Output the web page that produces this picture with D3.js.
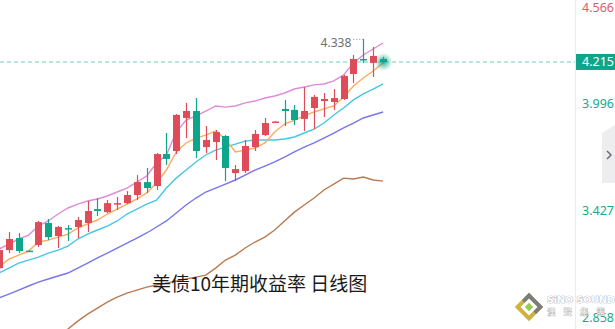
<!DOCTYPE html>
<html>
<head>
<meta charset="utf-8">
<script src="https://cdn.jsdelivr.net/npm/d3@7"></script>
<style>
  body { margin: 0; background: #fff; }
  svg { display: block; font-family: "Noto Sans", "Noto Sans CJK SC", sans-serif; }
</style>
</head>
<body>
<svg id="chart"></svg>
<script>
const w = 615, h = 329;

// daily candles: open / high / low / close
const opens  = [3.118,3.214,3.278,3.211,3.241,3.358,3.289,3.331,3.337,3.358,
                3.432,3.416,3.459,3.464,3.507,3.576,3.555,3.725,3.741,3.917,
                3.954,3.762,3.789,3.821,3.624,3.635,3.762,3.826,3.893,3.965,
                3.960,3.912,3.970,4.007,4.002,4.018,4.151,4.231,4.210,4.231];
const highs  = [3.230,3.310,3.305,3.213,3.369,3.379,3.342,3.347,3.390,3.475,
                3.491,3.480,3.496,3.528,3.613,3.651,3.730,3.837,3.938,3.997,
                4.023,3.874,3.853,3.826,3.667,3.800,3.853,3.917,3.900,4.013,
                3.986,4.082,4.039,4.050,4.071,4.146,4.252,4.338,4.295,4.242];
const lows   = [3.097,3.198,3.198,3.205,3.230,3.267,3.225,3.262,3.278,3.310,
                3.395,3.411,3.427,3.459,3.480,3.518,3.534,3.667,3.725,3.810,
                3.704,3.730,3.693,3.581,3.581,3.624,3.741,3.821,3.891,3.874,
                3.880,3.848,3.858,3.922,3.960,4.013,4.103,4.210,4.135,4.210];
const closes = [3.214,3.273,3.209,3.207,3.363,3.283,3.337,3.326,3.374,3.422,
                3.422,3.464,3.464,3.507,3.576,3.544,3.725,3.699,3.933,3.954,
                3.741,3.800,3.842,3.651,3.645,3.768,3.832,3.890,3.898,3.954,
                3.906,3.954,4.029,4.018,4.023,4.140,4.231,4.226,4.247,4.215];

// indicator lines
const pinkLine   = [3.219,3.246,3.273,3.294,3.342,3.369,3.406,3.438,3.459,3.475,
                    3.486,3.502,3.523,3.544,3.576,3.608,3.677,3.720,3.842,3.906,
                    3.928,3.954,3.981,3.975,3.981,3.997,4.007,4.023,4.034,4.050,
                    4.071,4.082,4.093,4.098,4.114,4.146,4.210,4.252,4.284,4.316];
const orangeLine = [3.124,3.166,3.187,3.209,3.257,3.267,3.283,3.299,3.331,3.353,
                    3.374,3.406,3.432,3.459,3.486,3.518,3.571,3.640,3.736,3.784,
                    3.810,3.826,3.848,3.805,3.736,3.746,3.757,3.784,3.842,3.885,
                    3.906,3.928,3.949,3.965,3.981,4.029,4.087,4.130,4.167,4.210];
const cyanLine   = [3.092,3.118,3.145,3.161,3.177,3.198,3.214,3.235,3.273,3.299,
                    3.321,3.342,3.369,3.406,3.432,3.459,3.480,3.544,3.597,3.640,
                    3.683,3.720,3.746,3.762,3.778,3.794,3.800,3.800,3.800,3.805,
                    3.816,3.837,3.858,3.890,3.933,3.970,4.013,4.045,4.071,4.098];
const blueLine   = [2.959,2.980,3.001,3.023,3.044,3.060,3.076,3.092,3.118,3.145,
                    3.172,3.198,3.225,3.251,3.278,3.305,3.337,3.369,3.411,3.454,
                    3.491,3.523,3.544,3.565,3.587,3.613,3.640,3.661,3.683,3.709,
                    3.736,3.762,3.784,3.810,3.837,3.864,3.890,3.917,3.933,3.949];
const brownLine  = [null,null,null,null,null,null,2.767,2.794,2.836,2.873,
                    2.905,2.937,2.964,2.985,3.001,3.017,3.028,3.038,3.049,3.060,
                    3.070,3.081,3.118,3.161,3.187,3.225,3.257,3.283,3.321,3.369,
                    3.416,3.454,3.491,3.534,3.565,3.597,3.592,3.603,3.587,3.581];

const axisTicks = [4.566, 3.996, 3.427, 2.858];
const lastPrice = 4.215;
const maxHigh = 4.338;
const title = "美债10年期收益率 日线图";

const red = "#de4b59", green = "#0ea58a";

let svg = d3.select('#chart').attr('width', w).attr('height', h);

let plotRight = 575;

let xScale = d3.scaleLinear().domain([0, closes.length - 1]).range([-1, 383]);
let yScale = d3.scaleLinear().domain([2.858, 4.566]).range([317, -4]);

let candles = closes.map(function(c, i) {
  return {i: i, o: opens[i], h: highs[i], l: lows[i], c: c};
});

svg.append('defs')
  .append('clipPath')
  .attr('id', 'clip')
  .append('rect')
  .attr('width', plotRight)
  .attr('height', h);

let glow = svg.select('defs').append('radialGradient').attr('id', 'glow');
glow.append('stop').attr('offset', '0%').attr('stop-color', green).attr('stop-opacity', 0.9);
glow.append('stop').attr('offset', '45%').attr('stop-color', green).attr('stop-opacity', 0.45);
glow.append('stop').attr('offset', '100%').attr('stop-color', green).attr('stop-opacity', 0);

let plot = svg.append('g').attr('clip-path', 'url(#clip)');

// right axis border
svg.append('line')
  .attr('x1', plotRight + 0.5).attr('x2', plotRight + 0.5)
  .attr('y1', 0).attr('y2', h)
  .attr('stroke', '#ececec');

// last price dashed line
plot.append('line')
  .attr('x1', 0).attr('x2', plotRight)
  .attr('y1', yScale(lastPrice)).attr('y2', yScale(lastPrice))
  .attr('stroke', '#b8e6dc')
  .attr('stroke-width', 2)
  .attr('stroke-dasharray', '4,3');

// title
svg.append('text')
  .attr('x', 152).attr('y', 291)
  .attr('font-family', '"Noto Sans CJK SC", sans-serif')
  .attr('font-size', 19)
  .attr('fill', '#1a1a1a')
  .text(title);

// lines
let lines = [
  {data: brownLine,  color: '#b97a52'},
  {data: blueLine,   color: '#7676ee'},
  {data: cyanLine,   color: '#45c7e3'},
  {data: orangeLine, color: '#ffaa5c'},
  {data: pinkLine,   color: '#e08bd8'}
];

let line = d3.line()
  .defined(function(d){ return d != null; })
  .x(function(d, i){ return xScale(i); })
  .y(function(d){ return yScale(d); });

lines.forEach(function(l) {
  plot.append('path')
    .datum(l.data)
    .attr('fill', 'none')
    .attr('stroke', l.color)
    .attr('stroke-width', 1.4)
    .attr('d', line);
});

// candles
let cw = 7;
let cg = plot.selectAll('.candle').data(candles).enter().append('g').attr('class', 'candle');

cg.append('line')
  .attr('x1', function(d){ return Math.round(xScale(d.i)) + 0.5; })
  .attr('x2', function(d){ return Math.round(xScale(d.i)) + 0.5; })
  .attr('y1', function(d){ return yScale(d.h); })
  .attr('y2', function(d){ return yScale(d.l); })
  .attr('stroke', function(d){ return d.c >= d.o ? red : green; })
  .attr('stroke-width', 1.2);

cg.append('rect')
  .attr('x', function(d){ return Math.round(xScale(d.i)) + 0.5 - cw / 2; })
  .attr('width', cw)
  .attr('y', function(d){ return yScale(Math.max(d.o, d.c)); })
  .attr('height', function(d){ return Math.max(1.5, Math.abs(yScale(d.o) - yScale(d.c))); })
  .attr('fill', function(d){ return d.c >= d.o ? red : green; });

// glow at last candle
let last = candles[candles.length - 1];
plot.append('circle')
  .attr('cx', xScale(last.i) + 0.5)
  .attr('cy', yScale(lastPrice))
  .attr('r', 9)
  .attr('fill', 'url(#glow)');

// max high annotation
let maxIdx = highs.indexOf(maxHigh);
svg.append('text')
  .attr('x', xScale(maxIdx) - 12).attr('y', yScale(maxHigh) + 8)
  .attr('text-anchor', 'end')
  .attr('font-size', 12)
  .attr('fill', '#6f6f6f')
  .text(maxHigh.toFixed(3));
svg.append('line')
  .attr('x1', xScale(maxIdx) - 10).attr('x2', xScale(maxIdx))
  .attr('y1', yScale(maxHigh) + 0.5).attr('y2', yScale(maxHigh) + 0.5)
  .attr('stroke', '#8a8a8a')
  .attr('stroke-dasharray', '1,2');

// axis labels
axisTicks.forEach(function(v, k) {
  svg.append('text')
    .attr('x', 582)
    .attr('y', Math.max(yScale(v), 7) + 4.5)
    .attr('font-size', 12.5)
    .attr('fill', k === 0 ? '#e2596a' : '#16a98d')
    .text(v.toFixed(3));
});

// last price tag
svg.append('rect')
  .attr('x', plotRight + 1).attr('y', yScale(lastPrice) - 8)
  .attr('width', w - plotRight - 1).attr('height', 16)
  .attr('fill', green);
svg.append('text')
  .attr('x', 582).attr('y', yScale(lastPrice) + 4.5)
  .attr('font-size', 12.5)
  .attr('fill', '#fff')
  .text(lastPrice.toFixed(3));

// side expand tab
svg.append('path')
  .attr('d', 'M602,133 L615,125 L615,183 L602,183 Z')
  .attr('fill', '#ededf0');
svg.append('path')
  .attr('d', 'M607,151 L611,155 L607,159')
  .attr('fill', 'none')
  .attr('stroke', '#6b6b78')
  .attr('stroke-width', 1.5);

// watermark logo
let logo = svg.append('g').attr('transform', 'translate(529,307)').attr('opacity', 0.9);
logo.append('rect').attr('x', -10).attr('y', -10).attr('width', 20).attr('height', 20)
  .attr('transform', 'rotate(45)').attr('fill', '#c9a92a');
logo.append('rect').attr('x', -10).attr('y', -10).attr('width', 20).attr('height', 10)
  .attr('transform', 'rotate(45)').attr('fill', '#6e6e6e');
logo.append('rect').attr('x', -6).attr('y', -6).attr('width', 12).attr('height', 12)
  .attr('transform', 'rotate(45)').attr('fill', '#fff');
logo.append('rect').attr('x', -3).attr('y', -3).attr('width', 6).attr('height', 6)
  .attr('transform', 'rotate(45)').attr('fill', '#8cc63f');
svg.append('text')
  .attr('x', 547).attr('y', 303)
  .attr('font-family', '"DejaVu Sans", sans-serif')
  .attr('font-weight', 'bold')
  .attr('font-size', 9.5)
  .attr('fill', '#fff')
  .attr('stroke', '#9a9a9a')
  .attr('stroke-width', 0.7)
  .attr('paint-order', 'stroke')
  .text('SiNO SOUND');
svg.append('text')
  .attr('x', 547).attr('y', 315)
  .attr('font-family', '"Noto Sans CJK TC", sans-serif')
  .attr('font-size', 8.5)
  .attr('letter-spacing', 8)
  .attr('fill', '#fff')
  .attr('stroke', '#a0a0a0')
  .attr('stroke-width', 0.6)
  .attr('paint-order', 'stroke')
  .text('漢聲集團');
</script>
</body>
</html>
